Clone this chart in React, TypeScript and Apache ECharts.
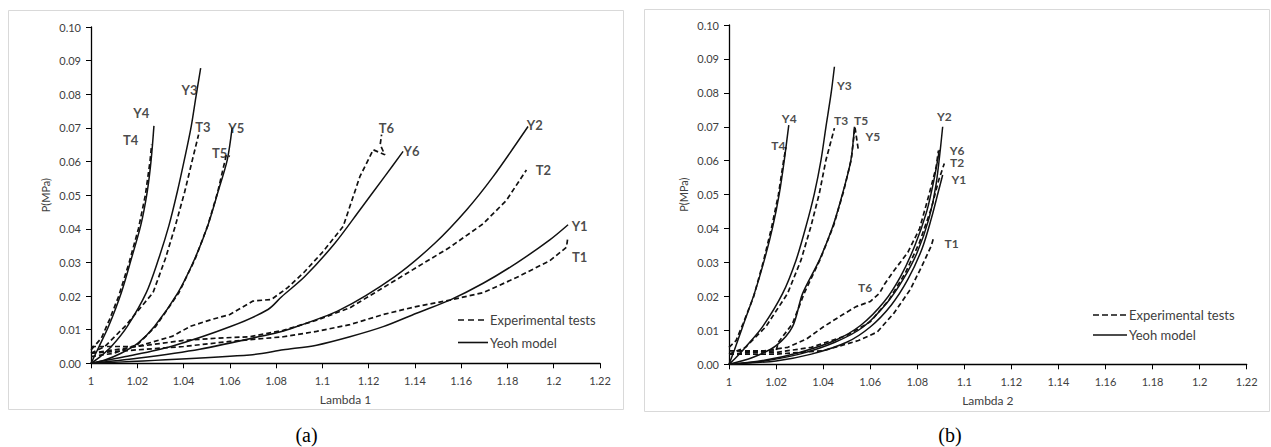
import React, { useEffect, useRef } from "react";
import * as echarts from "echarts";

type P = [number, number];

// ---------- axis ranges / tick labels ----------
const X_MIN = 1;
const X_MAX = 1.22;
const X_STEP = 0.02;
const Y_MIN = 0;
const Y_MAX = 0.1;
const Y_STEP = 0.01;
const X_NAMES = ["Lambda 1", "Lambda 2"];
const Y_NAME = "P(MPa)";
const CAPTIONS = ["(a)", "(b)"];
const LEGEND_NAMES = ["Experimental tests", "Yeoh model"];

// ---------- panel (a): Lambda 1 ----------
const aY4: P[] = [[1, 0], [1.0035, 0.005], [1.0076, 0.011], [1.0131, 0.021], [1.0174, 0.031], [1.0215, 0.041], [1.0243, 0.051], [1.026, 0.0605], [1.0272, 0.0706]];
const aT4: P[] = [[1.0, 0.004], [1.0045, 0.0075], [1.008, 0.013], [1.012, 0.02], [1.0165, 0.03], [1.0205, 0.04], [1.0235, 0.05], [1.0255, 0.06], [1.0262, 0.065]];
const aY3: P[] = [[1, 0], [1.004, 0.002], [1.0088, 0.005], [1.0157, 0.011], [1.0239, 0.021], [1.0292, 0.031], [1.0337, 0.041], [1.0373, 0.051], [1.0405, 0.061], [1.0433, 0.0704], [1.0453, 0.079], [1.0474, 0.0878]];
const aT3: P[] = [[1.0, 0.003], [1.006, 0.005], [1.0147, 0.011], [1.0268, 0.021], [1.0321, 0.031], [1.0365, 0.041], [1.0405, 0.051], [1.044, 0.061], [1.0465, 0.068]];
const aY5: P[] = [[1, 0], [1.006, 0.001], [1.013, 0.003], [1.0203, 0.006], [1.0275, 0.011], [1.0376, 0.021], [1.0448, 0.031], [1.0505, 0.041], [1.0549, 0.051], [1.0589, 0.0605], [1.061, 0.07]];
const aT5: P[] = [[1.0, 0.002], [1.01, 0.003], [1.02, 0.0055], [1.028, 0.011], [1.038, 0.021], [1.045, 0.031], [1.0505, 0.041], [1.0548, 0.051], [1.0585, 0.062], [1.06, 0.0615]];
const aT6: P[] = [[1.0, 0.003], [1.02, 0.005], [1.035, 0.008], [1.043, 0.011], [1.052, 0.013], [1.06, 0.0145], [1.07, 0.0185], [1.078, 0.019], [1.085, 0.0225], [1.092, 0.027], [1.1, 0.033], [1.109, 0.0407], [1.1162, 0.0555], [1.122, 0.0635], [1.127, 0.062], [1.125, 0.065], [1.1256, 0.068]];
const aY6: P[] = [[1, 0], [1.015, 0.002], [1.0346, 0.005], [1.0606, 0.011], [1.0765, 0.016], [1.0824, 0.0198], [1.0924, 0.0258], [1.1054, 0.0357], [1.1162, 0.0456], [1.1269, 0.0555], [1.1349, 0.063]];
const aY2: P[] = [[1, 0], [1.02, 0.0015], [1.047, 0.0042], [1.0765, 0.0085], [1.0845, 0.0099], [1.1076, 0.0159], [1.1313, 0.0258], [1.1486, 0.0357], [1.1623, 0.0456], [1.1738, 0.0555], [1.1889, 0.0704]];
const aT2: P[] = [[1.0, 0.005], [1.02, 0.005], [1.04, 0.0068], [1.055, 0.0075], [1.0687, 0.0079], [1.0831, 0.0098], [1.0975, 0.0128], [1.1119, 0.0165], [1.1263, 0.0225], [1.1407, 0.0285], [1.1551, 0.0345], [1.1695, 0.0415], [1.1796, 0.0485], [1.1882, 0.0575]];
const aY1: P[] = [[1, 0], [1.0687, 0.0025], [1.0831, 0.004], [1.0975, 0.0054], [1.1119, 0.0079], [1.1263, 0.0109], [1.1407, 0.0149], [1.1551, 0.0188], [1.1695, 0.0238], [1.1839, 0.0298], [1.1983, 0.0367], [1.2062, 0.0412]];
const aT1: P[] = [[1.0, 0.003], [1.02, 0.004], [1.04, 0.005], [1.06, 0.0065], [1.0831, 0.0079], [1.0975, 0.0095], [1.1119, 0.0115], [1.1263, 0.0145], [1.14, 0.0168], [1.1551, 0.0188], [1.1695, 0.021], [1.1839, 0.0255], [1.1983, 0.0305], [1.2055, 0.0345], [1.206, 0.037]];

// ---------- panel (b): Lambda 2 ----------
const bY4: P[] = [[1, 0], [1.0023, 0.0042], [1.0058, 0.0111], [1.0108, 0.0209], [1.015, 0.0307], [1.0186, 0.0406], [1.0214, 0.0504], [1.0235, 0.0602], [1.0254, 0.0705]];
const bT4: P[] = [[1.0, 0.005], [1.003, 0.007], [1.006, 0.012], [1.0105, 0.02], [1.0145, 0.03], [1.018, 0.04], [1.021, 0.05], [1.0232, 0.06], [1.0242, 0.064]];
const bY3: P[] = [[1, 0], [1.003, 0.002], [1.0072, 0.0052], [1.0143, 0.0111], [1.0228, 0.0209], [1.0285, 0.0307], [1.0327, 0.0406], [1.0363, 0.0504], [1.0391, 0.0602], [1.0412, 0.07], [1.0434, 0.0799], [1.0448, 0.0877]];
const bT3: P[] = [[1.0, 0.003], [1.007, 0.005], [1.0157, 0.0111], [1.0249, 0.0209], [1.0306, 0.0307], [1.0348, 0.0406], [1.0384, 0.0504], [1.0412, 0.0602], [1.0448, 0.0696]];
const bY5: P[] = [[1, 0], [1.01, 0.002], [1.02, 0.0055], [1.027, 0.0111], [1.0313, 0.0209], [1.0384, 0.0307], [1.0441, 0.0406], [1.0483, 0.0504], [1.0518, 0.0602], [1.0533, 0.07]];
const bT5: P[] = [[1.0, 0.003], [1.01, 0.0035], [1.02, 0.004], [1.021, 0.0065], [1.027, 0.012], [1.032, 0.021], [1.0388, 0.031], [1.0445, 0.041], [1.0487, 0.051], [1.052, 0.0605], [1.0535, 0.07], [1.055, 0.063]];
const bY2: P[] = [[1, 0], [1.015, 0.001], [1.03, 0.003], [1.045, 0.0065], [1.057, 0.011], [1.067, 0.018], [1.074, 0.025], [1.08, 0.033], [1.085, 0.043], [1.088, 0.053], [1.0908, 0.07]];
const bY6: P[] = [[1, 0], [1.015, 0.0012], [1.03, 0.0035], [1.045, 0.007], [1.056, 0.0115], [1.066, 0.0185], [1.073, 0.026], [1.079, 0.035], [1.084, 0.045], [1.087, 0.054], [1.0894, 0.0632]];
const bY1: P[] = [[1, 0], [1.02, 0.001], [1.035, 0.003], [1.05, 0.0065], [1.06, 0.011], [1.069, 0.0175], [1.076, 0.025], [1.082, 0.034], [1.086, 0.043], [1.089, 0.051], [1.0908, 0.0558]];
const bT2: P[] = [[1.0, 0.004], [1.02, 0.0035], [1.035, 0.005], [1.05, 0.0085], [1.06, 0.0125], [1.068, 0.019], [1.075, 0.027], [1.081, 0.036], [1.086, 0.046], [1.089, 0.054], [1.0915, 0.0592]];
const bT1: P[] = [[1.0, 0.003], [1.02, 0.003], [1.04, 0.004], [1.055, 0.007], [1.063, 0.0095], [1.07, 0.015], [1.077, 0.022], [1.082, 0.029], [1.086, 0.035], [1.087, 0.0375]];
const bT6: P[] = [[1.0, 0.004], [1.015, 0.004], [1.025, 0.005], [1.033, 0.0075], [1.04, 0.011], [1.048, 0.0145], [1.054, 0.017], [1.06, 0.0185], [1.064, 0.021], [1.066, 0.0235], [1.07, 0.0275], [1.076, 0.033], [1.081, 0.04], [1.085, 0.05], [1.088, 0.058], [1.089, 0.063]];

// ---------- curve labels [text, lambda, P] ----------
const labelsA: [string, number, number][] = [
  ["Y4", 1.0217, 0.0744], ["T4", 1.0171, 0.0665], ["Y3", 1.0426, 0.0813], ["T3", 1.0484, 0.0704],
  ["Y5", 1.0628, 0.0699], ["T5", 1.0556, 0.0625], ["T6", 1.1277, 0.0699], ["Y6", 1.1385, 0.063],
  ["Y2", 1.1918, 0.0709], ["T2", 1.1955, 0.0575], ["Y1", 1.2112, 0.0407], ["T1", 1.2112, 0.0317],
];
const labelsB: [string, number, number][] = [
  ["Y4", 1.0256, 0.0725], ["T4", 1.021, 0.0646], ["Y3", 1.049, 0.0823], ["T3", 1.0476, 0.072],
  ["T5", 1.0561, 0.072], ["Y5", 1.0611, 0.0671], ["Y2", 1.0915, 0.073], ["Y6", 1.0969, 0.0631],
  ["T2", 1.0969, 0.0594], ["Y1", 1.0977, 0.0545], ["T1", 1.0946, 0.0357], ["T6", 1.0578, 0.0225],
];

const expA = [aT1, aT2, aT3, aT4, aT5, aT6];
const modA = [aY1, aY2, aY3, aY4, aY5, aY6];
const expB = [bT1, bT2, bT3, bT4, bT5, bT6];
const modB = [bY1, bY2, bY3, bY4, bY5, bY6];

const FONT = "Lato, 'Open Sans', 'Liberation Sans', sans-serif";
const TXT = "#404040";

function fmtX(v: number) {
  return String(Math.round(v * 100) / 100);
}

export default function App() {
  const ref = useRef<HTMLDivElement>(null);

  useEffect(() => {
    document.body.style.margin = "0";
    if (!ref.current) return;
    const chart = echarts.init(ref.current, undefined, { renderer: "svg" });

    const grids = [
      { left: 91, top: 27, width: 509, height: 336.3 },
      { left: 729, top: 25, width: 517.7, height: 339.3 },
    ];

    const xAxes = grids.map((_, i) => ({
      type: "value",
      gridIndex: i,
      min: X_MIN,
      max: X_MAX,
      interval: X_STEP,
      name: X_NAMES[i],
      nameLocation: "middle",
      nameGap: 30,
      nameTextStyle: { fontFamily: FONT, fontSize: 12, color: TXT, verticalAlign: "top" },
      axisLine: { show: true, onZero: false, lineStyle: { color: "#000", width: 1.3 } },
      axisTick: { show: true, inside: false, length: 5, lineStyle: { color: "#000" } },
      axisLabel: { fontFamily: FONT, fontSize: 11, color: TXT, margin: 12, formatter: fmtX },
      splitLine: { show: false },
    }));

    const yAxes = grids.map((_, i) => ({
      type: "value",
      gridIndex: i,
      min: Y_MIN,
      max: Y_MAX,
      interval: Y_STEP,
      name: Y_NAME,
      nameLocation: "middle",
      nameGap: 40,
      nameTextStyle: { fontFamily: FONT, fontSize: 11, color: TXT },
      axisLine: { show: true, lineStyle: { color: "#000", width: 1.3 } },
      axisTick: { show: true, inside: false, length: 5, lineStyle: { color: "#000" } },
      axisLabel: { fontFamily: FONT, fontSize: 11, color: TXT, margin: 10, formatter: (v: number) => v.toFixed(2) },
      splitLine: { show: false },
    }));

    const series: any[] = [];
    const addCurves = (arr: P[][], idx: number, dashed: boolean) => {
      arr.forEach((d) => {
        series.push({
          type: "line",
          name: dashed ? LEGEND_NAMES[0] : LEGEND_NAMES[1],
          xAxisIndex: idx,
          yAxisIndex: idx,
          data: d,
          symbol: "none",
          smooth: dashed ? false : 0.3,
          lineStyle: { color: "#111", width: dashed ? 1.7 : 1.5, type: dashed ? [5, 3] : "solid" },
          itemStyle: { color: "#111" },
          silent: true,
          z: 3,
        });
      });
    };
    addCurves(expA, 0, true);
    addCurves(modA, 0, false);
    addCurves(expB, 1, true);
    addCurves(modB, 1, false);

    [labelsA, labelsB].forEach((labs, idx) => {
      const fs = idx === 0 ? 13 : 12;
      series.push({
        type: "scatter",
        name: "labels" + idx,
        xAxisIndex: idx,
        yAxisIndex: idx,
        symbolSize: 1,
        itemStyle: { color: "rgba(0,0,0,0)" },
        data: labs.map(([t, x, y]) => ({ name: t, value: [x, y] })),
        label: {
          show: true,
          position: "inside",
          formatter: "{b}",
          fontFamily: FONT,
          fontWeight: "bold",
          fontSize: fs,
          lineHeight: fs - 1,
          color: "#1a1a1a",
        },
        silent: true,
        z: 5,
      });
    });

    // legend drawn as graphic elements: [x0, x1, yDashed, ySolid, dash]
    const legendBoxes: [number, number, number, number, number[]][] = [
      [458, 488, 320, 342.5, [6, 4]],
      [1093, 1127, 315, 335, [6, 3]],
    ];
    const legendGraphics: any[] = [];
    legendBoxes.forEach(([x0, x1, yd, ys, dash]) => {
      legendGraphics.push(
        { type: "line", shape: { x1: x0, y1: yd, x2: x1, y2: yd }, style: { stroke: "#111", lineWidth: 1.5, lineDash: dash }, silent: true },
        { type: "line", shape: { x1: x0, y1: ys, x2: x1, y2: ys }, style: { stroke: "#111", lineWidth: 1.6 }, silent: true },
        { type: "text", x: x1 + 2, y: yd, style: { text: LEGEND_NAMES[0], fontFamily: FONT, fontSize: 13, fill: TXT, align: "left", verticalAlign: "middle" }, silent: true },
        { type: "text", x: x1 + 2, y: ys, style: { text: LEGEND_NAMES[1], fontFamily: FONT, fontSize: 13, fill: TXT, align: "left", verticalAlign: "middle" }, silent: true }
      );
    });

    chart.setOption({
      animation: false,
      backgroundColor: "#fff",
      grid: grids,
      xAxis: xAxes,
      yAxis: yAxes,
      series,
      graphic: [
        { type: "rect", shape: { x: 8.5, y: 10.5, width: 615, height: 399 }, style: { fill: "none", stroke: "#d9d9d9", lineWidth: 1 }, silent: true },
        { type: "rect", shape: { x: 644.5, y: 9.5, width: 625, height: 402 }, style: { fill: "none", stroke: "#d9d9d9", lineWidth: 1 }, silent: true },
        ...legendGraphics,
        { type: "text", x: 306.5, y: 435, style: { text: CAPTIONS[0], fontFamily: "'Liberation Serif', serif", fontSize: 20, fill: "#000", align: "center", verticalAlign: "middle" }, silent: true },
        { type: "text", x: 950, y: 435, style: { text: CAPTIONS[1], fontFamily: "'Liberation Serif', serif", fontSize: 20, fill: "#000", align: "center", verticalAlign: "middle" }, silent: true },
      ],
    });

    return () => chart.dispose();
  }, []);

  return <div ref={ref} style={{ width: 1271, height: 447 }} />;
}
